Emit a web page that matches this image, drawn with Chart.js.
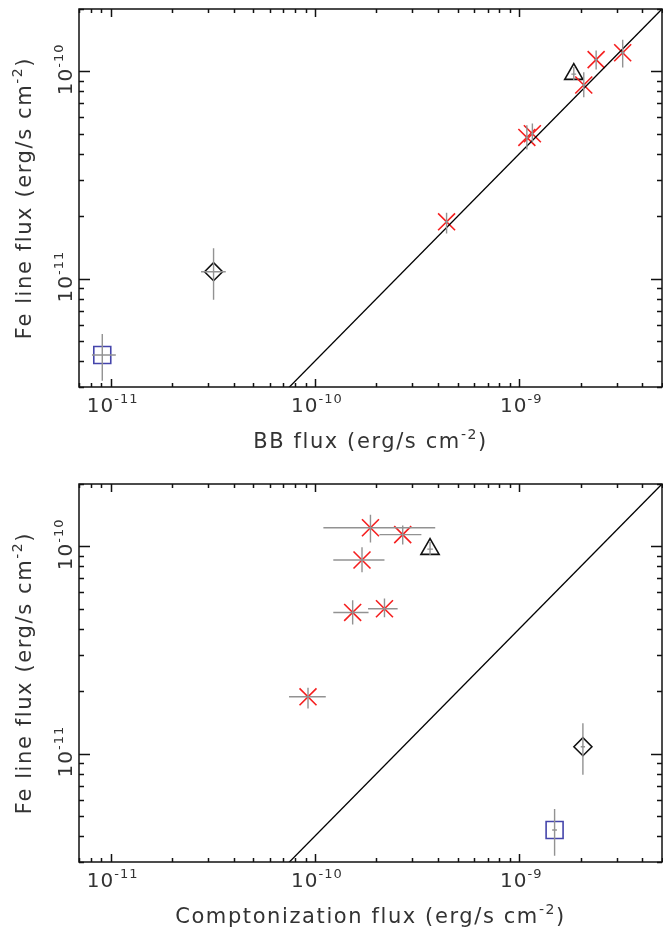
<!DOCTYPE html>
<html>
<head>
<meta charset="utf-8">
<script src="https://cdn.jsdelivr.net/npm/chart.js@4.4.0/dist/chart.umd.min.js"></script>
<style>
  body { margin: 0; background: #fff; }
  canvas { display: block; }
</style>
</head>
<body>
<canvas id="bbChart" width="663" height="475"></canvas>
<canvas id="comptChart" width="663" height="458"></canvas>
<script>
// Fe line flux (y axis, same for both panels)
const feRed   = [1.14e-10, 1.23e-10, 8.6e-11, 4.8e-11, 5.0e-11, 1.88e-11];
const feRedLo = [1.02e-10, 1.045e-10, 7.5e-11, 4.2e-11, 4.55e-11, 1.65e-11];
const feRedHi = [1.26e-10, 1.42e-10, 9.9e-11, 5.5e-11, 5.6e-11, 2.08e-11];
const feTri = [9.7e-11],  feTriLo = [9.1e-11],  feTriHi = [1.05e-10];
const feDia = [1.08e-11], feDiaLo = [7.9e-12],  feDiaHi = [1.40e-11];
const feSq  = [4.28e-12], feSqLo  = [3.22e-12], feSqHi  = [5.4e-12];

// BB flux (top panel x)
const bbRed   = [2.38e-9, 3.21e-9, 2.07e-9, 1.09e-9, 1.16e-9, 4.41e-10];
const bbRedLo = [2.33e-9, 3.14e-9, 2.03e-9, 1.07e-9, 1.14e-9, 4.33e-10];
const bbRedHi = [2.43e-9, 3.28e-9, 2.11e-9, 1.11e-9, 1.18e-9, 4.49e-10];
const bbTri = [1.85e-9],  bbTriLo = [1.80e-9],  bbTriHi = [1.90e-9];
const bbDia = [3.19e-11], bbDiaLo = [2.77e-11], bbDiaHi = [3.66e-11];
const bbSq  = [9.1e-12],  bbSqLo  = [8.1e-12],  bbSqHi  = [1.06e-11];

// Comptonization flux (bottom panel x)
const compRed   = [2.69e-10, 1.87e-10, 1.70e-10, 1.53e-10, 2.19e-10, 9.25e-11];
const compRedLo = [2.07e-10, 1.10e-10, 1.23e-10, 1.23e-10, 1.82e-10, 7.47e-11];
const compRedHi = [3.32e-10, 3.88e-10, 2.19e-10, 1.83e-10, 2.54e-10, 1.13e-10];
const compTri = [3.66e-10], compTriLo = [3.55e-10], compTriHi = [3.78e-10];
const compDia = [2.05e-9],  compDiaLo = [2.0e-9],   compDiaHi = [2.1e-9];
const compSq  = [1.49e-9],  compSqLo  = [1.45e-9],  compSqHi  = [1.53e-9];

// reference line (Fe = 0.04 x continuum)
const refLineX = [1e-12, 1e-8];
const refLineY = [4e-14, 4e-10];

// axes
const xRange = [7e-12, 5e-9];
const yRange = [3e-12, 2e-10];
const xTickValues = [1e-11, 1e-10, 1e-9];
const xTickExps   = ['-11', '-10', '-9'];
const yTickValues = [1e-11, 1e-10];
const yTickExps   = ['-11', '-10'];

const FONT = '"DejaVu Sans", "Liberation Sans", sans-serif';
const TEXT_COLOR = '#333';

function pts(xs, ys) {
    return xs.map((x, i) => ({ x: x, y: ys[i] }));
}

// draws text made of normal and superscript parts, centred on (cx, baseline)
function drawRich(ctx, parts, cx, baseline, size, spacing) {
    const small = Math.round(size * 0.66);
    ctx.letterSpacing = (spacing || 0) + 'px';
    let total = 0;
    parts.forEach(p => {
        ctx.font = (p.sup ? small : size) + 'px ' + FONT;
        p.w = ctx.measureText(p.t).width;
        total += p.w;
    });
    let x = cx - total / 2;
    parts.forEach(p => {
        ctx.font = (p.sup ? small : size) + 'px ' + FONT;
        ctx.fillText(p.t, x, p.sup ? baseline - size * 0.45 : baseline);
        x += p.w;
    });
    ctx.letterSpacing = '0px';
}

const errorBars = {
    id: 'errorBars',
    afterDatasetsDraw(chart) {
        const ctx = chart.ctx, xs = chart.scales.x, ys = chart.scales.y;
        const area = chart.chartArea;
        ctx.save();
        ctx.beginPath();
        ctx.rect(area.left, area.top, area.right - area.left, area.bottom - area.top);
        ctx.clip();
        ctx.strokeStyle = '#929292';
        ctx.lineWidth = 1.4;
        chart.data.datasets.forEach(ds => {
            if (!ds.err) return;
            ds.data.forEach((p, i) => {
                const px = xs.getPixelForValue(p.x), py = ys.getPixelForValue(p.y);
                ctx.beginPath();
                ctx.moveTo(xs.getPixelForValue(ds.err.xLo[i]), py);
                ctx.lineTo(xs.getPixelForValue(ds.err.xHi[i]), py);
                ctx.moveTo(px, ys.getPixelForValue(ds.err.yLo[i]));
                ctx.lineTo(px, ys.getPixelForValue(ds.err.yHi[i]));
                ctx.stroke();
            });
        });
        ctx.restore();
    }
};

// IDL style box with inward ticks and labels
const frameTicks = {
    id: 'frameTicks',
    afterDraw(chart, args, opts) {
        const ctx = chart.ctx, a = chart.chartArea;
        const xs = chart.scales.x, ys = chart.scales.y;
        ctx.save();
        ctx.strokeStyle = '#111';
        ctx.lineWidth = 1.5;
        ctx.strokeRect(a.left, a.top, a.right - a.left, a.bottom - a.top);

        ctx.beginPath();
        for (let d = -13; d <= -7; d++) {
            for (let m = 1; m <= 9; m++) {
                const v = m * Math.pow(10, d);
                if (v >= xs.min && v <= xs.max) {
                    const px = Math.round(xs.getPixelForValue(v)) + 0.5;
                    const len = m === 1 ? 8 : 4;
                    ctx.moveTo(px, a.bottom); ctx.lineTo(px, a.bottom - len);
                    ctx.moveTo(px, a.top); ctx.lineTo(px, a.top + len);
                }
                if (v >= ys.min && v <= ys.max) {
                    const py = Math.round(ys.getPixelForValue(v)) + 0.5;
                    const len = m === 1 ? 11 : 5;
                    ctx.moveTo(a.left, py); ctx.lineTo(a.left + len, py);
                    ctx.moveTo(a.right, py); ctx.lineTo(a.right - len, py);
                }
            }
        }
        ctx.stroke();

        ctx.fillStyle = TEXT_COLOR;
        ctx.textAlign = 'left';
        ctx.textBaseline = 'alphabetic';
        xTickValues.forEach((v, i) => {
            drawRich(ctx, [{ t: '10' }, { t: xTickExps[i], sup: true }],
                xs.getPixelForValue(v) + 2, a.bottom + 25, 20, 1);
        });
        yTickValues.forEach((v, i) => {
            ctx.save();
            ctx.translate(a.left - 7, ys.getPixelForValue(v) - 2);
            ctx.rotate(-Math.PI / 2);
            drawRich(ctx, [{ t: '10' }, { t: yTickExps[i], sup: true }], 0, 0, 20, 1);
            ctx.restore();
        });

        drawRich(ctx, opts.xTitle, (a.left + a.right) / 2, a.bottom + 61, 21, 1.6);
        ctx.save();
        ctx.translate(31, (a.top + a.bottom) / 2);
        ctx.rotate(-Math.PI / 2);
        drawRich(ctx, opts.yTitle, 0, 0, 21, 1.6);
        ctx.restore();
        ctx.restore();
    }
};

const yTitle = [{ t: 'Fe line flux (erg/s cm' }, { t: '-2', sup: true }, { t: ')' }];

function makeChart(id, xRed, xRedLo, xRedHi, xTri, xTriLo, xTriHi,
                   xDia, xDiaLo, xDiaHi, xSq, xSqLo, xSqHi, xTitle, bottomPad) {
    const ctx = document.getElementById(id).getContext('2d');
    return new Chart(ctx, {
        type: 'scatter',
        data: {
            datasets: [
                {
                    type: 'line',
                    data: pts(refLineX, refLineY),
                    borderColor: '#000',
                    borderWidth: 1.3,
                    pointRadius: 0,
                    fill: false
                },
                {
                    data: pts(xRed, feRed),
                    err: { xLo: xRedLo, xHi: xRedHi, yLo: feRedLo, yHi: feRedHi },
                    pointStyle: 'crossRot',
                    radius: 12,
                    borderColor: '#f51f1f',
                    borderWidth: 1.6,
                    backgroundColor: 'rgba(0,0,0,0)'
                },
                {
                    data: pts(xTri, feTri),
                    err: { xLo: xTriLo, xHi: xTriHi, yLo: feTriLo, yHi: feTriHi },
                    pointStyle: 'triangle',
                    radius: 10.5,
                    borderColor: '#111',
                    borderWidth: 1.6,
                    backgroundColor: 'rgba(0,0,0,0)'
                },
                {
                    data: pts(xDia, feDia),
                    err: { xLo: xDiaLo, xHi: xDiaHi, yLo: feDiaLo, yHi: feDiaHi },
                    pointStyle: 'rectRot',
                    radius: 9,
                    borderColor: '#111',
                    borderWidth: 1.6,
                    backgroundColor: 'rgba(0,0,0,0)'
                },
                {
                    data: pts(xSq, feSq),
                    err: { xLo: xSqLo, xHi: xSqHi, yLo: feSqLo, yHi: feSqHi },
                    pointStyle: 'rect',
                    radius: 12,
                    borderColor: '#4545ab',
                    borderWidth: 1.6,
                    backgroundColor: 'rgba(0,0,0,0)'
                }
            ]
        },
        options: {
            responsive: false,
            animation: false,
            devicePixelRatio: 1,
            layout: { autoPadding: false, padding: { left: 79, right: 1, top: 9, bottom: bottomPad } },
            scales: {
                x: { type: 'logarithmic', min: xRange[0], max: xRange[1], display: false },
                y: { type: 'logarithmic', min: yRange[0], max: yRange[1], display: false }
            },
            plugins: {
                legend: { display: false },
                tooltip: { enabled: false },
                frameTicks: { xTitle: xTitle, yTitle: yTitle }
            }
        },
        plugins: [errorBars, frameTicks]
    });
}

makeChart('bbChart', bbRed, bbRedLo, bbRedHi, bbTri, bbTriLo, bbTriHi,
          bbDia, bbDiaLo, bbDiaHi, bbSq, bbSqLo, bbSqHi,
          [{ t: 'BB flux (erg/s cm' }, { t: '-2', sup: true }, { t: ')' }], 88);

makeChart('comptChart', compRed, compRedLo, compRedHi, compTri, compTriLo, compTriHi,
          compDia, compDiaLo, compDiaHi, compSq, compSqLo, compSqHi,
          [{ t: 'Comptonization flux (erg/s cm' }, { t: '-2', sup: true }, { t: ')' }], 71);
</script>
</body>
</html>
